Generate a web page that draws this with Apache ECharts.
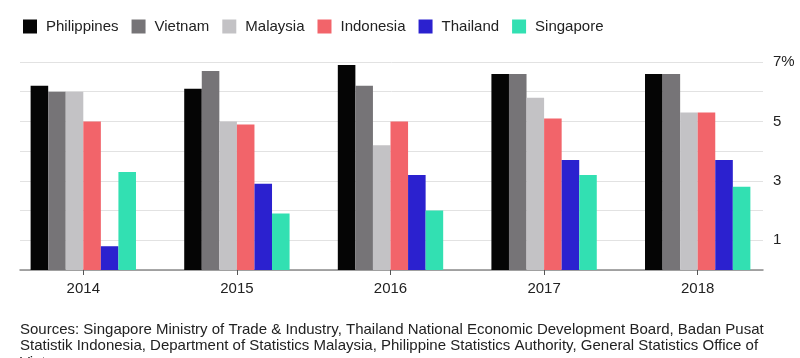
<!DOCTYPE html>
<html>
<head>
<meta charset="utf-8">
<script src="https://cdn.jsdelivr.net/npm/echarts@6/dist/echarts.min.js"></script>
<style>html,body{margin:0;padding:0;background:#fff;}#c{width:800px;height:358px;}</style>
</head>
<body>
<div id="c"></div>
<script>
const years = ['2014', '2015', '2016', '2017', '2018'];
const philippines = [6.2, 6.1, 6.9, 6.6, 6.6];
const vietnam = [6.0, 6.7, 6.2, 6.6, 6.6];
const malaysia = [6.0, 5.0, 4.2, 5.8, 5.3];
const indonesia = [5.0, 4.9, 5.0, 5.1, 5.3];
const thailand = [0.8, 2.9, 3.2, 3.7, 3.7];
const singapore = [3.3, 1.9, 2.0, 3.2, 2.8];
const yTickValues = [1, 3, 5, 7];
const yTickLabels = ['1', '3', '5', '7%'];
const sourceLines = [
  'Sources: Singapore Ministry of Trade & Industry, Thailand National Economic Development Board, Badan Pusat',
  'Statistik Indonesia, Department of Statistics Malaysia, Philippine Statistics Authority, General Statistics Office of',
  'Vietnam'
];

const FONT = '"Liberation Sans", Arial, Helvetica, sans-serif';
const seriesDefs = [
  ['Philippines', philippines, '#050505'],
  ['Vietnam', vietnam, '#767477'],
  ['Malaysia', malaysia, '#c3c2c5'],
  ['Indonesia', indonesia, '#f2646a'],
  ['Thailand', thailand, '#2b21cf'],
  ['Singapore', singapore, '#32e0b2']
];

const chart = echarts.init(document.getElementById('c'), null, {renderer: 'canvas'});
chart.setOption({
  animation: false,
  backgroundColor: '#fff',
  textStyle: {fontFamily: FONT},
  legend: {
    left: 18, top: 14,
    icon: 'rect', itemWidth: 14, itemHeight: 14, itemGap: 13,
    textStyle: {fontFamily: FONT, fontSize: 15, color: '#222', padding: [0, 0, 0, 4]},
    data: seriesDefs.map(s => s[0])
  },
  grid: [
    {left: 20, right: 37, top: 62, bottom: 88},
    {left: 6.5, right: 25.5, top: 62, bottom: 88}
  ],
  xAxis: [
    {type: 'category', gridIndex: 0, data: years,
     axisLine: {show: true, lineStyle: {color: '#8a8a8a', width: 1.5}},
     axisTick: {show: false}, axisLabel: {show: false}},
    {type: 'category', gridIndex: 1, data: years,
     axisLine: {show: false},
     axisTick: {show: true, alignWithLabel: true, length: 5, lineStyle: {color: '#555', width: 1}},
     axisLabel: {fontFamily: FONT, fontSize: 15, color: '#222', margin: 11}}
  ],
  yAxis: [
    {type: 'value', gridIndex: 0, position: 'right', min: 0, max: 7, interval: 1,
     axisLine: {show: false}, axisTick: {show: false},
     splitLine: {lineStyle: {color: '#e2e2e2', width: 1}},
     axisLabel: {fontFamily: FONT, fontSize: 15, color: '#222', margin: 10, align: 'left',
       formatter: v => { const i = yTickValues.indexOf(v); return i >= 0 ? yTickLabels[i] : ''; }}},
    {type: 'value', gridIndex: 1, min: 0, max: 7, interval: 1, show: false}
  ],
  series: seriesDefs.map(s => ({
    name: s[0], type: 'bar', xAxisIndex: 1, yAxisIndex: 1,
    data: s[1], itemStyle: {color: s[2]},
    barGap: '0%', barCategoryGap: '31.4%'
  })),
  graphic: [{
    type: 'text', left: 20, top: 321.5,
    style: {text: sourceLines.join('\n'), font: '15px ' + FONT, fill: '#222', lineHeight: 16.5}
  }]
});
</script>
</body>
</html>
